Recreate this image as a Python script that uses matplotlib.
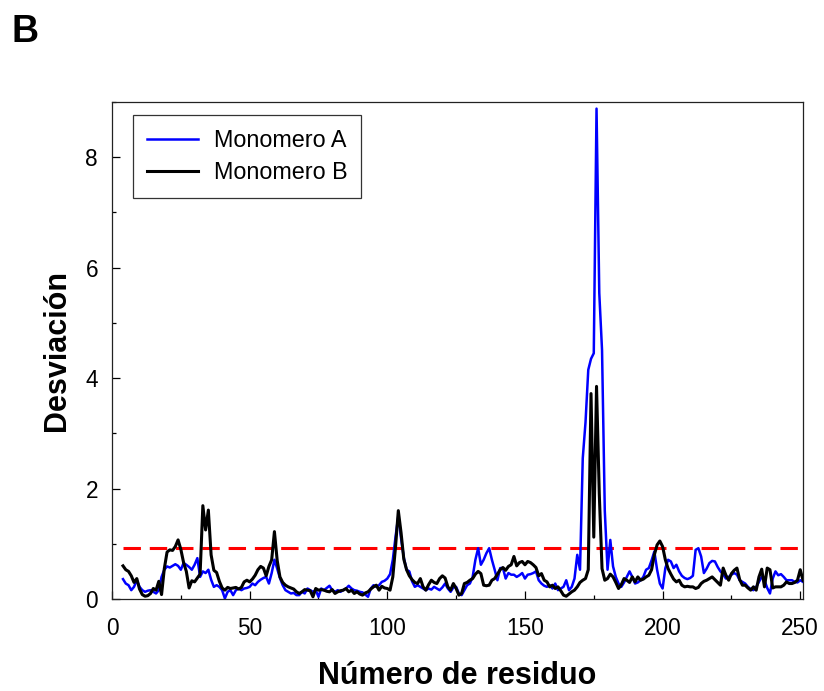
import numpy as np
import matplotlib
matplotlib.use("Agg")
import matplotlib.pyplot as plt
from matplotlib.ticker import MultipleLocator

plt.rcParams['font.family'] = ['Liberation Sans', 'DejaVu Sans']

# Residue numbering of the per-residue deviation profiles
first_residue = 4
last_residue = 251

# Monomero A (blue), residues 4-251, ten values per row
monomero_a = [
    0.36, 0.28, 0.25, 0.16, 0.22, 0.34, 0.22, 0.16, 0.13, 0.15,   # 4-13
    0.16, 0.13, 0.10, 0.16, 0.40, 0.53, 0.59, 0.57, 0.60, 0.63,   # 14-23
    0.60, 0.53, 0.65, 0.62, 0.58, 0.53, 0.62, 0.74, 0.40, 0.50,   # 24-33
    0.47, 0.53, 0.35, 0.22, 0.25, 0.22, 0.16, 0.01, 0.13, 0.16,   # 34-43
    0.07, 0.16, 0.19, 0.16, 0.19, 0.20, 0.22, 0.28, 0.25, 0.31,   # 44-53
    0.35, 0.38, 0.40, 0.28, 0.47, 0.71, 0.55, 0.38, 0.25, 0.16,   # 54-63
    0.13, 0.10, 0.11, 0.07, 0.07, 0.13, 0.10, 0.19, 0.16, 0.13,   # 64-73
    0.16, 0.04, 0.19, 0.16, 0.20, 0.24, 0.16, 0.13, 0.16, 0.13,   # 74-83
    0.16, 0.19, 0.24, 0.19, 0.16, 0.15, 0.13, 0.12, 0.08, 0.04,   # 84-93
    0.19, 0.25, 0.22, 0.25, 0.31, 0.33, 0.37, 0.45, 0.71, 1.13,   # 94-103
    1.50, 1.10, 0.75, 0.53, 0.50, 0.32, 0.22, 0.25, 0.22, 0.19,   # 104-113
    0.16, 0.19, 0.17, 0.22, 0.19, 0.16, 0.21, 0.28, 0.19, 0.13,   # 114-123
    0.21, 0.22, 0.10, 0.07, 0.16, 0.25, 0.28, 0.40, 0.71, 0.92,   # 124-133
    0.62, 0.71, 0.83, 0.92, 0.71, 0.53, 0.34, 0.56, 0.56, 0.37,   # 134-143
    0.47, 0.44, 0.44, 0.40, 0.43, 0.47, 0.37, 0.44, 0.45, 0.47,   # 144-153
    0.50, 0.34, 0.28, 0.24, 0.22, 0.25, 0.19, 0.28, 0.16, 0.19,   # 154-163
    0.22, 0.34, 0.16, 0.22, 0.37, 0.80, 0.53, 2.55, 3.20, 4.15,   # 164-173
    4.35, 4.45, 8.88, 5.54, 4.51, 1.60, 0.53, 1.07, 0.59, 0.40,   # 174-183
    0.28, 0.22, 0.30, 0.40, 0.50, 0.40, 0.28, 0.30, 0.34, 0.40,   # 184-193
    0.53, 0.56, 0.70, 0.86, 0.53, 0.28, 0.19, 0.56, 0.71, 0.68,   # 194-203
    0.56, 0.62, 0.50, 0.42, 0.38, 0.36, 0.38, 0.42, 0.89, 0.92,   # 204-213
    0.77, 0.47, 0.55, 0.65, 0.69, 0.68, 0.58, 0.50, 0.45, 0.37,   # 214-223
    0.40, 0.44, 0.47, 0.44, 0.34, 0.31, 0.28, 0.22, 0.18, 0.16,   # 224-233
    0.22, 0.31, 0.40, 0.34, 0.20, 0.10, 0.37, 0.50, 0.43, 0.45,   # 234-243
    0.40, 0.34, 0.34, 0.34, 0.31, 0.30, 0.34, 0.31,               # 244-251
]

# Monomero B (black), residues 4-251, ten values per row
monomero_b = [
    0.60, 0.53, 0.50, 0.42, 0.30, 0.37, 0.18, 0.08, 0.05, 0.06,   # 4-13
    0.10, 0.19, 0.16, 0.32, 0.08, 0.55, 0.85, 0.89, 0.88, 0.95,   # 14-23
    1.07, 0.90, 0.66, 0.50, 0.20, 0.33, 0.31, 0.38, 0.45, 1.69,   # 24-33
    1.25, 1.61, 0.80, 0.52, 0.48, 0.32, 0.20, 0.16, 0.21, 0.19,   # 34-43
    0.20, 0.21, 0.18, 0.21, 0.31, 0.34, 0.31, 0.36, 0.43, 0.53,   # 44-53
    0.59, 0.56, 0.42, 0.59, 0.71, 1.22, 0.70, 0.40, 0.30, 0.25,   # 54-63
    0.22, 0.20, 0.18, 0.13, 0.10, 0.13, 0.17, 0.16, 0.15, 0.04,   # 64-73
    0.19, 0.16, 0.17, 0.16, 0.14, 0.13, 0.17, 0.10, 0.13, 0.15,   # 74-83
    0.16, 0.19, 0.13, 0.16, 0.10, 0.13, 0.09, 0.07, 0.11, 0.13,   # 84-93
    0.18, 0.22, 0.25, 0.16, 0.23, 0.20, 0.19, 0.16, 0.40, 0.95,   # 94-103
    1.60, 1.20, 0.72, 0.53, 0.42, 0.35, 0.30, 0.28, 0.37, 0.22,   # 104-113
    0.16, 0.26, 0.34, 0.30, 0.28, 0.37, 0.42, 0.38, 0.22, 0.16,   # 114-123
    0.28, 0.19, 0.07, 0.10, 0.28, 0.30, 0.34, 0.37, 0.45, 0.50,   # 124-133
    0.46, 0.25, 0.24, 0.25, 0.34, 0.37, 0.45, 0.53, 0.57, 0.52,   # 134-143
    0.59, 0.62, 0.77, 0.60, 0.66, 0.68, 0.62, 0.68, 0.66, 0.62,   # 144-153
    0.57, 0.42, 0.46, 0.34, 0.31, 0.22, 0.25, 0.19, 0.22, 0.15,   # 154-163
    0.07, 0.05, 0.09, 0.13, 0.16, 0.22, 0.30, 0.34, 0.37, 0.53,   # 164-173
    3.72, 1.12, 3.85, 1.90, 0.55, 0.34, 0.37, 0.45, 0.40, 0.30,   # 174-183
    0.19, 0.26, 0.37, 0.34, 0.30, 0.40, 0.31, 0.40, 0.34, 0.36,   # 184-193
    0.40, 0.43, 0.53, 0.80, 0.98, 1.05, 0.95, 0.71, 0.55, 0.45,   # 194-203
    0.36, 0.31, 0.34, 0.25, 0.22, 0.23, 0.22, 0.22, 0.19, 0.21,   # 204-213
    0.28, 0.32, 0.34, 0.37, 0.40, 0.35, 0.30, 0.25, 0.56, 0.43,   # 214-223
    0.34, 0.46, 0.52, 0.56, 0.35, 0.25, 0.25, 0.20, 0.16, 0.22,   # 224-233
    0.16, 0.40, 0.54, 0.22, 0.56, 0.53, 0.20, 0.22, 0.22, 0.22,   # 234-243
    0.25, 0.31, 0.28, 0.28, 0.30, 0.34, 0.53, 0.34,               # 244-251
]

# Cut-off level drawn as a dashed reference line
umbral = 0.93

series_labels = ["Monomero A", "Monomero B"]
x_ticks = [0, 50, 100, 150, 200, 250]
y_ticks = [0, 2, 4, 6, 8]

residuos = np.arange(first_residue, last_residue + 1)

fig = plt.figure(figsize=(8.24, 6.91), dpi=100)
ax = fig.add_axes([112 / 824, 1 - 599 / 691, 691 / 824, 497 / 691])

ax.plot([residuos[0], residuos[-1]], [umbral, umbral], color="#ff0000",
        lw=2.2, linestyle=(0, (5.7, 2.9)), zorder=1)
ax.plot(residuos, monomero_a, color="#0000ff", lw=1.8, label=series_labels[0], zorder=2)
ax.plot(residuos, monomero_b, color="black", lw=2.2, label=series_labels[1], zorder=3)

ax.set_xlim(0, 251)
ax.set_ylim(0, 9)
ax.set_xticks(x_ticks)
ax.set_yticks(y_ticks)
ax.xaxis.set_minor_locator(MultipleLocator(25))
ax.yaxis.set_minor_locator(MultipleLocator(1))
ax.tick_params(which="major", direction="in", length=5.5, width=0.9,
               labelsize=16.3, colors="black")
ax.tick_params(which="minor", direction="in", length=3.1, width=0.9)
ax.tick_params(axis="x", which="major", pad=13)
ax.tick_params(axis="y", which="major", pad=10)
for s in ax.spines.values():
    s.set_linewidth(0.9)
    s.set_color("#222222")

ax.set_xlabel("Número de residuo", fontsize=22, fontweight="bold", labelpad=15)
ax.set_ylabel("Desviación", fontsize=22, fontweight="bold", labelpad=10)

leg = ax.legend(loc="upper left", bbox_to_anchor=(21 / 691, 1 - 13 / 497),
                borderaxespad=0, fontsize=16.8, frameon=True, fancybox=False,
                handlelength=2.2, handletextpad=0.65, borderpad=0.6,
                labelspacing=0.4)
leg.get_frame().set_edgecolor("black")
leg.get_frame().set_linewidth(0.9)

fig.text(25 / 824, 1 - 32 / 691, "B", fontsize=27, fontweight="bold",
         ha="center", va="center")

fig.savefig("out.png", dpi=100)
